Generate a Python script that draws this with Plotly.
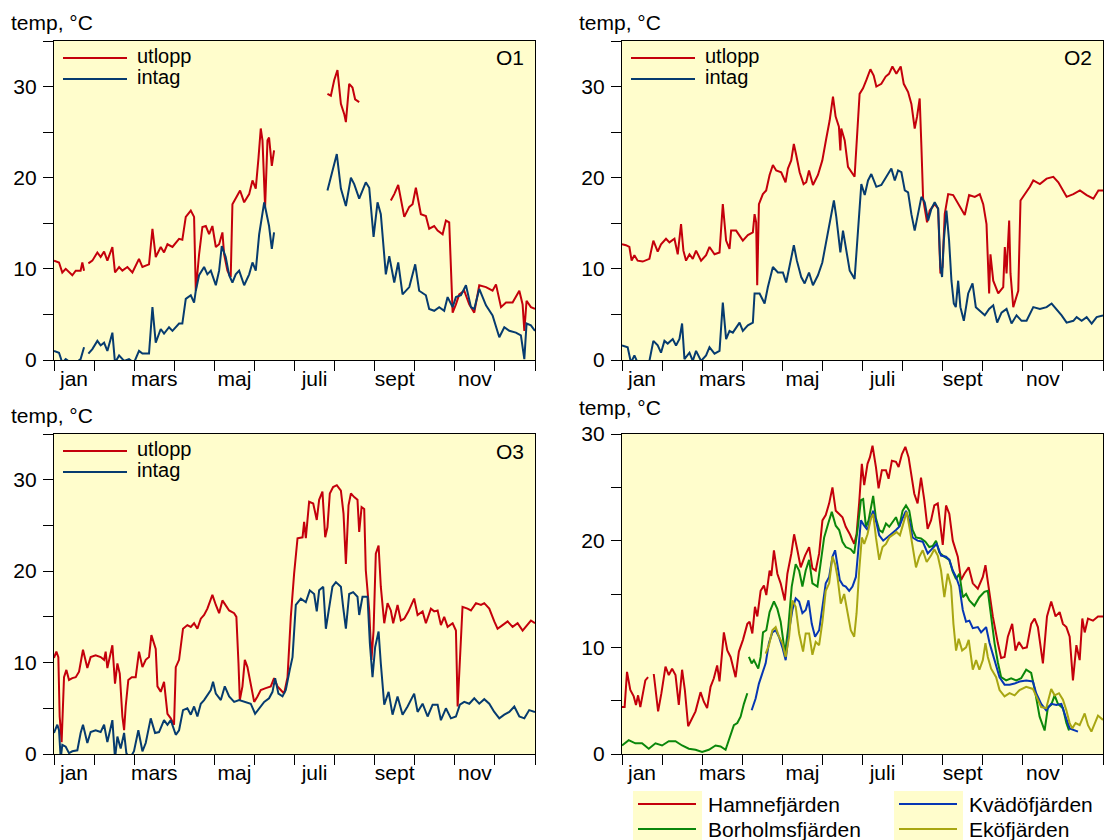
import plotly.graph_objects as go

W, H = 1104, 840

# ---------------- data (day of year, temperature °C); None = gap ----------------
P1_UTLOPP = [
    (0, 10.9), (3.8, 10.7), (6.3, 9.6), (8.9, 10.0), (13.9, 9.3), (16.5, 9.8), (20.2, 9.8), (21.5, 10.7), (22.8, 9.8), (24.5, None),
    (26.1, 10.6), (29.1, 10.9), (32.9, 11.8), (35.4, 11.3), (38.0, 11.9), (40.5, 10.9), (44.3, 12.4), (46.3, 9.6), (49.4, 10.2),
    (51.9, 9.8), (55.7, 10.2), (59.5, 9.6), (64.5, 11.1), (67.1, 10.2), (72.1, 10.5), (74.7, 14.4), (77.2, 11.3), (81.0, 12.4),
    (83.5, 11.8), (86.1, 12.7), (89.9, 12.4), (94.9, 13.3), (97.4, 13.2), (100.0, 15.7), (103.8, 16.4), (106.3, 15.7), (107.6, 7.6),
    (110.1, 11.6), (112.6, 14.6), (115.2, 14.7), (117.7, 13.8), (120.2, 14.7), (122.8, 12.4), (125.3, 12.7), (127.8, 14.0),
    (129.1, 11.6), (131.6, 9.8), (134.1, 9.1), (135.4, 17.1), (139.2, 18.0), (141.2, 18.6), (144.3, 17.3), (148.1, 18.2),
    (150.6, 19.7), (153.1, 18.8), (155.2, 22.2), (156.9, 25.4), (158.2, 24.1), (160.2, 16.8), (162.0, 24.1), (163.2, 24.4),
    (165.3, 21.3), (167.0, 23.0), (180, None),
    (207.5, 29.2), (210.1, 29.0), (212.6, 30.7), (215.1, 31.8), (217.7, 28.1), (220.2, 27.0), (221.5, 26.1), (224.0, 30.3),
    (226.5, 29.9), (228.5, 28.6), (231.6, 28.3), (240, None),
    (255.6, 17.5), (258.2, 18.2), (261.2, 19.2), (263.2, 17.7), (265.8, 15.7), (269.6, 16.8), (272.1, 17.1), (274.6, 18.9),
    (278.4, 16.0), (282.2, 15.8), (284.7, 14.4), (288.5, 14.7), (291.1, 14.2), (294.9, 13.8), (297.4, 15.3), (299.9, 15.1),
    (302.5, 5.2), (305.0, 6.1), (307.5, 7.2), (311.3, 7.6), (315.1, 6.1), (318.9, 5.2), (322.7, 8.2), (327.8, 8.0), (332.8, 7.6),
    (335.4, 8.3), (339.2, 5.8), (343.0, 6.3), (348.0, 6.3), (353.1, 7.6), (355.6, 6.1), (356.9, 3.2), (358.6, 6.5), (361.9, 5.8),
    (365, 5.6),
]
P1_INTAG = [
    (0, 1.0), (3.8, 0.8), (6.3, -0.3), (8.9, 0.1), (12.7, -0.3), (16.5, -0.3), (20.2, 0.1), (22.8, 1.4), (24.5, None),
    (26.1, 0.7), (29.1, 1.2), (32.9, 2.1), (35.4, 1.6), (38.0, 1.9), (40.5, 1.0), (44.3, 3.0), (46.3, -0.3), (49.4, 0.5),
    (53.2, -0.1), (56.9, 0.1), (60.7, -0.3), (64.5, 1.0), (67.1, 0.7), (72.1, 0.7), (74.7, 5.8), (77.2, 1.9), (81.0, 3.4),
    (83.5, 2.9), (87.3, 3.6), (89.9, 3.2), (94.9, 4.0), (97.4, 4.0), (100.0, 6.7), (103.8, 7.1), (106.3, 6.3), (107.6, 7.6),
    (110.1, 9.3), (113.9, 10.2), (116.4, 9.4), (119.0, 9.8), (122.8, 8.2), (125.3, 9.8), (127.3, 12.5), (130.3, 11.3),
    (132.9, 9.3), (135.4, 8.5), (137.9, 9.4), (140.5, 9.8), (144.3, 8.2), (148.1, 9.4), (150.6, 10.7), (153.1, 9.8),
    (155.7, 13.8), (159.5, 17.3), (162.0, 15.3), (163.2, 14.7), (165.3, 12.2), (167.0, 14.0), (180, None),
    (207.5, 18.6), (211.3, 20.6), (214.6, 22.6), (217.7, 18.8), (221.5, 16.9), (225.3, 20.0), (227.8, 19.3), (231.6, 17.7),
    (236.6, 19.5), (239.2, 18.9), (242.5, 13.5), (245.5, 17.3), (248.0, 16.0), (251.8, 9.4), (254.4, 11.4), (258.2, 8.5),
    (261.2, 10.7), (264.5, 7.2), (269.6, 8.0), (274.1, 10.5), (277.1, 7.6), (282.2, 7.1), (284.7, 5.6), (288.5, 5.4),
    (292.3, 5.8), (296.1, 5.4), (298.7, 6.9), (302.5, 5.8), (305.0, 6.9), (308.8, 7.1), (312.6, 8.2), (316.4, 5.8),
    (318.9, 5.6), (322.7, 7.8), (327.8, 6.0), (332.8, 4.9), (337.9, 2.5), (341.7, 3.6), (345.5, 3.2), (350.5, 3.0),
    (354.3, 2.7), (356.9, 0.1), (358.6, 4.0), (361.9, 3.8), (365, 3.2),
]
P2_UTLOPP = [
    (0, 12.7), (3.0, 12.6), (5.6, 12.4), (7.3, 10.9), (9.4, 11.5), (11.9, 10.9), (15.7, 10.8), (20.8, 11.1), (23.8, 13.1),
    (27.1, 11.9), (29.6, 12.7), (33.4, 13.3), (36.0, 12.9), (39.8, 13.3), (42.3, 11.6), (44.8, 14.9), (46.6, 12.0),
    (48.6, 10.9), (51.2, 11.6), (53.7, 11.1), (56.2, 12.0), (60.0, 10.9), (63.8, 11.5), (66.4, 12.4), (70.2, 11.6),
    (74.0, 11.8), (76.5, 17.1), (79.0, 13.1), (81.6, 12.2), (82.8, 14.2), (86.6, 14.2), (89.2, 13.7), (91.7, 13.1),
    (95.5, 13.7), (99.3, 14.0), (100.6, 16.0), (101.8, 15.1), (102.6, 8.2), (103.9, 17.1), (106.9, 18.2), (109.4, 18.6),
    (112.0, 20.3), (114.5, 21.4), (117.0, 20.8), (120.8, 20.6), (124.1, 19.5), (125.9, 21.0), (128.4, 21.9), (130.4, 23.7),
    (132.2, 22.5), (134.8, 20.6), (137.8, 19.3), (139.8, 19.5), (141.9, 20.8), (144.9, 19.2), (148.7, 20.3), (152.0, 21.9),
    (155.0, 24.3), (157.6, 26.3), (160.1, 28.9), (162.1, 26.7), (164.6, 25.6), (165.7, 23.0), (166.4, 25.4), (169.0, 24.1),
    (171.5, 21.2), (174.0, 20.6), (176.5, 20.1), (180.3, 29.2), (182.9, 29.8), (185.4, 30.7), (188.5, 31.9), (191.0, 31.2),
    (193.0, 30.0), (196.8, 30.3), (200.1, 31.1), (202.6, 31.4), (205.2, 32.2), (208.2, 31.4), (211.5, 32.2), (213.8, 30.3),
    (217.1, 29.4), (219.6, 28.1), (222.1, 25.4), (223.9, 26.7), (225.9, 28.7), (227.2, 23.4), (228.5, 17.7), (231.5, 15.1),
    (233.5, 16.4), (237.3, 17.1), (239.9, 16.6), (241.6, 9.5), (243.2, 10.2), (244.9, 16.0), (247.5, 18.2), (251.3, 18.1),
    (255.1, 17.1), (260.1, 15.9), (263.4, 18.1), (267.7, 17.9), (271.5, 18.2), (274.1, 17.1), (276.6, 14.9), (278.6, 7.3),
    (279.6, 11.6), (281.7, 8.7), (285.5, 7.3), (289.3, 8.0), (290.5, 12.4), (291.8, 9.5), (293.8, 15.3), (294.8, 9.5),
    (296.9, 5.8), (300.7, 7.6), (302.4, 17.5), (305.7, 18.2), (309.5, 19.0), (312.1, 19.7), (317.1, 19.3), (322.2, 19.9),
    (327.3, 20.1), (331.1, 19.5), (334.9, 18.6), (337.4, 17.9), (342.5, 18.2), (347.5, 18.6), (352.6, 18.1), (357.7, 17.7),
    (361.5, 18.6), (365, 18.6),
]
P2_INTAG = [
    (0, 1.6), (4.3, 1.4), (6.8, -0.3), (9.4, 0.5), (11.9, -0.3), (15.7, -0.1), (20.8, -0.1), (23.8, 2.1), (27.1, 1.6),
    (29.6, 0.8), (32.2, 2.1), (34.7, 1.8), (38.5, 2.3), (41.0, 1.6), (43.6, 2.3), (45.6, 4.0), (47.4, 0.1), (51.2, 0.8),
    (53.7, -0.1), (56.2, 1.0), (60.0, -0.1), (63.8, 0.5), (66.4, 1.4), (70.2, 0.7), (74.0, 1.0), (76.5, 6.3), (79.0, 2.3),
    (81.6, 3.2), (84.1, 3.0), (86.6, 3.6), (89.2, 4.1), (91.7, 3.2), (95.5, 3.8), (99.3, 4.1), (100.6, 7.3), (104.4, 7.3),
    (108.2, 6.2), (110.7, 8.0), (114.5, 10.2), (118.3, 9.6), (122.1, 9.6), (124.6, 8.5), (127.2, 10.2), (130.4, 12.6),
    (132.7, 10.9), (136.0, 9.1), (138.6, 8.4), (141.9, 9.6), (144.9, 8.2), (148.7, 9.3), (152.0, 10.7), (155.0, 13.1),
    (157.6, 15.3), (160.8, 17.5), (162.6, 15.7), (165.7, 11.8), (167.7, 14.2), (170.2, 12.2), (172.8, 9.8), (176.5, 8.9),
    (179.1, 14.6), (181.6, 19.3), (184.2, 18.1), (186.7, 19.7), (189.2, 20.4), (193.0, 19.0), (196.8, 19.2), (200.6, 20.1),
    (204.4, 21.0), (207.0, 19.7), (209.5, 20.8), (212.0, 20.6), (214.6, 18.6), (217.1, 18.4), (219.6, 16.0), (222.1, 14.2),
    (224.7, 16.0), (227.2, 17.9), (229.7, 17.3), (232.3, 15.3), (234.8, 16.6), (237.3, 17.3), (239.9, 16.6), (241.6, 10.2),
    (242.9, 9.1), (244.2, 13.1), (246.2, 16.4), (248.2, 13.1), (250.0, 8.7), (251.8, 6.2), (253.3, 5.8), (255.1, 8.7),
    (256.8, 5.8), (259.4, 4.3), (262.7, 7.3), (266.0, 8.4), (268.5, 5.8), (271.5, 5.4), (275.3, 4.9), (278.6, 5.6),
    (281.7, 6.0), (284.7, 4.1), (288.0, 5.2), (291.8, 5.6), (295.6, 4.0), (299.4, 4.9), (303.2, 4.3), (307.0, 4.3),
    (312.1, 5.8), (317.1, 5.6), (322.2, 5.8), (326.0, 6.2), (329.8, 5.6), (333.6, 4.9), (337.4, 4.1), (342.5, 4.3),
    (345.0, 4.7), (348.8, 4.3), (352.6, 4.7), (356.4, 4.0), (360.2, 4.7), (365, 4.9),
]
P3_UTLOPP = [
    (0, 10.5), (1.8, 11.2), (3.3, 10.6), (4.3, 4.1), (5.8, 1.3), (7.6, 8.4), (9.4, 9.2), (11.4, 8.1), (13.9, 8.3),
    (16.5, 8.4), (19.0, 9.0), (22.0, 11.4), (25.3, 9.4), (27.8, 10.6), (31.6, 10.8), (35.4, 10.6), (38.0, 10.3),
    (39.2, 11.2), (40.5, 9.4), (42.3, 10.6), (44.3, 11.9), (46.3, 7.7), (48.1, 9.9), (49.9, 8.8), (51.9, 4.1), (53.2, 2.6),
    (54.4, 5.2), (56.4, 8.1), (59.0, 8.4), (62.0, 8.4), (64.5, 11.2), (67.1, 9.5), (69.6, 10.3), (72.1, 10.6), (73.9, 13.0),
    (77.2, 11.5), (78.5, 7.4), (81.0, 6.8), (83.5, 7.9), (86.1, 4.4), (88.6, 3.9), (91.1, 3.2), (92.4, 9.5), (94.9, 10.3),
    (97.9, 13.7), (101.2, 14.1), (103.8, 13.9), (106.3, 14.3), (108.8, 13.7), (111.4, 14.8), (113.9, 15.2), (116.4, 15.9),
    (119.0, 16.8), (120.2, 17.4), (122.8, 16.3), (125.3, 15.4), (127.8, 16.8), (130.3, 16.3), (132.9, 15.7), (136.7, 15.4),
    (138.4, 15.0), (140.0, 9.9), (141.0, 5.9), (143.0, 7.4), (144.8, 10.3), (146.8, 9.5), (149.3, 7.7), (151.9, 5.7),
    (154.4, 6.3), (156.9, 7.0), (160.7, 7.2), (164.5, 7.4), (167.0, 8.3), (169.6, 7.4), (172.1, 7.0), (174.6, 6.6),
    (177.2, 8.4), (179.7, 15.0), (182.2, 19.7), (184.8, 23.6), (188.6, 23.7), (189.8, 25.4), (191.1, 23.6), (193.6, 27.6),
    (196.7, 27.4), (199.4, 25.6), (201.2, 27.8), (203.7, 28.7), (205.8, 23.7), (207.5, 24.8), (209.3, 28.5), (211.8, 29.2),
    (214.6, 29.4), (217.7, 28.8), (219.7, 26.3), (221.5, 20.8), (223.5, 27.2), (225.3, 28.5), (227.8, 28.1), (230.3, 27.8),
    (231.6, 24.3), (233.4, 27.0), (235.4, 26.8), (236.6, 20.1), (239.2, 15.7), (240.9, 10.3), (242.5, 13.5), (244.2, 21.9),
    (246.3, 22.8), (248.0, 18.3), (250.6, 14.3), (253.1, 16.5), (255.6, 15.7), (257.4, 14.3), (260.7, 16.3), (263.2, 14.6),
    (265.8, 14.8), (269.0, 15.6), (273.3, 17.0), (275.9, 15.2), (279.7, 15.6), (282.2, 14.3), (286.0, 15.9), (288.5, 15.6),
    (291.1, 15.7), (293.6, 14.1), (296.1, 15.0), (298.7, 13.9), (302.5, 14.3), (305.0, 13.5), (306.3, 5.2), (308.0, 10.3),
    (310.0, 16.1), (313.8, 15.9), (316.4, 15.7), (320.2, 16.5), (324.0, 16.3), (326.5, 16.5), (330.3, 15.9), (334.1, 14.5),
    (336.6, 13.7), (340.4, 14.1), (344.2, 14.5), (348.0, 13.9), (351.8, 14.3), (355.6, 13.5), (359.4, 14.1), (361.9, 14.6),
    (365, 14.3),
]
P3_INTAG = [
    (0, 2.3), (2.5, 3.2), (3.8, 2.6), (5.1, -0.5), (6.3, 1.0), (8.9, 0.8), (11.4, 0.1), (13.9, 0.3), (17.7, 0.4), (20.2, 2.3),
    (22.0, 3.2), (25.3, 1.2), (27.8, 2.4), (31.6, 2.6), (35.4, 2.4), (38.0, 3.2), (40.5, 1.3), (42.3, 2.6), (44.3, 3.7),
    (46.3, -0.5), (48.1, 1.9), (50.6, 0.6), (53.2, 2.3), (54.9, 0.1), (57.5, -0.5), (60.7, 0.3), (64.0, 2.6), (67.1, 0.3),
    (69.6, 1.2), (73.4, 3.9), (76.7, 2.3), (79.7, 2.4), (83.5, 3.7), (86.1, 3.2), (88.6, 3.7), (92.4, 2.1), (94.9, 2.6),
    (97.9, 4.8), (101.2, 5.0), (103.8, 4.3), (106.3, 5.2), (108.8, 4.1), (111.4, 5.5), (113.9, 5.9), (116.4, 6.4),
    (119.0, 7.0), (120.7, 7.9), (122.8, 6.6), (126.6, 5.9), (129.6, 7.4), (132.9, 6.3), (136.7, 5.7), (140.5, 5.9),
    (145.5, 5.7), (149.3, 5.5), (152.6, 4.4), (155.7, 5.0), (159.5, 5.7), (163.2, 6.1), (165.8, 6.8), (167.8, 8.3),
    (170.3, 6.6), (173.4, 6.3), (175.9, 7.0), (178.9, 9.2), (181.0, 10.6), (183.5, 16.3), (187.3, 17.0), (191.1, 16.6),
    (194.1, 17.9), (197.4, 17.5), (199.4, 15.6), (201.2, 17.9), (204.3, 18.3), (206.3, 13.7), (208.8, 16.1), (211.3, 18.3),
    (213.9, 18.8), (217.7, 18.3), (219.4, 16.1), (221.5, 13.7), (224.0, 17.5), (227.0, 17.7), (230.3, 17.2), (231.6, 15.2),
    (234.1, 17.2), (237.9, 17.2), (239.7, 12.1), (241.7, 8.4), (243.7, 11.7), (246.3, 13.4), (248.0, 9.9), (250.6, 5.4),
    (253.9, 6.8), (256.9, 4.3), (260.7, 6.3), (264.5, 4.3), (268.3, 5.2), (273.3, 6.6), (275.9, 4.6), (279.7, 5.5),
    (283.5, 4.1), (287.3, 5.4), (291.1, 5.4), (293.6, 3.7), (297.4, 5.0), (301.2, 3.9), (305.0, 4.1), (308.0, 5.4),
    (311.3, 5.7), (315.1, 5.5), (318.9, 6.1), (322.7, 5.5), (326.5, 6.0), (330.3, 5.5), (334.1, 4.6), (337.9, 3.9),
    (341.7, 4.3), (345.5, 4.6), (349.3, 5.2), (353.1, 4.1), (356.9, 3.9), (360.6, 4.8), (365, 4.6),
]
HAMNEFJARDEN = [
    (0, 4.4), (2.0, 4.4), (3.8, 7.7), (6.3, 6.0), (8.9, 5.4), (10.6, 4.6), (12.2, 5.5), (13.9, 4.4), (16.5, 6.1), (17.7, 6.9),
    (19.8, 7.2), (22, None),
    (24.1, 7.5), (25.9, 5.4), (27.4, 4.0), (29.9, 5.7), (33.0, 8.2), (35.5, 7.4), (38.0, 8.0), (40.6, 7.4), (43.1, 4.6),
    (45.6, 7.9), (47.7, 6.0), (50.2, 2.6), (52.7, 3.2), (55.8, 4.0), (59.6, 5.8), (62.1, 4.9), (64.6, 4.3), (67.2, 6.3),
    (69.7, 7.1), (72.2, 8.3), (74.0, 6.8), (77.3, 11.4), (79.9, 9.7), (82.4, 9.1), (86.2, 7.2), (88.7, 9.6), (91.8, 10.7),
    (95.1, 12.2), (96.8, 12.4), (98.9, 11.3), (100.9, 13.8), (102.7, 12.9), (105.2, 15.3), (107.7, 15.8), (109.5, 14.9),
    (112.0, 17.2), (113.3, 16.7), (115.3, 19.1), (117.9, 16.9), (120.4, 16.0), (123.5, 14.4), (125.5, 16.9), (128.5, 18.8),
    (130.6, 20.6), (133.1, 19.1), (135.6, 17.5), (138.9, 18.6), (142.0, 19.4), (144.5, 17.4), (147.0, 17.2), (149.6, 18.8),
    (152.1, 21.9), (154.6, 22.4), (157.2, 23.5), (159.7, 25.0), (162.2, 22.8), (164.8, 22.5), (167.3, 22.2), (169.8, 21.3),
    (172.9, 20.6), (176.2, 19.7), (178.0, 20.6), (180.0, 23.6), (182.0, 27.2), (183.8, 25.2), (186.3, 27.2), (188.1, 27.8),
    (190.1, 28.9), (192.7, 26.9), (194.7, 24.9), (197.2, 26.6), (200.3, 26.6), (202.3, 25.8), (204.8, 27.5), (207.9, 27.4),
    (209.9, 26.9), (212.4, 28.1), (215.0, 28.8), (217.5, 27.8), (219.3, 26.3), (221.8, 24.4), (224.3, 23.5), (226.9, 25.9),
    (229.4, 23.8), (231.9, 21.1), (234.5, 21.9), (237.0, 23.3), (239.6, 23.5), (243.4, 19.6), (245.9, 23.3), (248.4, 22.5),
    (251.0, 20.0), (254.8, 18.5), (257.3, 16.3), (259.8, 16.9), (263.1, 17.5), (266.2, 16.0), (270.0, 15.5), (273.8, 16.6),
    (275.8, 17.7), (278.4, 15.3), (281.4, 12.9), (285.2, 10.4), (287.7, 9.0), (290.3, 9.1), (292.8, 11.0), (296.1, 12.2),
    (298.6, 9.7), (301.2, 10.5), (304.2, 9.9), (307.2, 10.0), (310.5, 12.2), (313.1, 12.7), (315.6, 11.9), (319.4, 8.5),
    (322.5, 12.9), (325.7, 14.3), (329.0, 12.9), (332.1, 13.3), (334.6, 12.2), (337.2, 11.9), (339.7, 11.0), (342.2, 6.9),
    (344.8, 10.2), (347.3, 8.8), (349.3, 12.7), (351.1, 11.4), (353.6, 12.7), (357.4, 12.5), (361.2, 12.9), (365, 12.9),
]
BORHOLMSFJARDEN = [
    (0, 0.8), (5.1, 1.3), (10.1, 1.0), (15.2, 1.0), (20.3, 0.5), (25.4, 1.0), (30.4, 0.8), (35.5, 1.2), (40.6, 1.2),
    (45.6, 0.8), (50.7, 0.5), (55.8, 0.4), (60.8, 0.2), (65.9, 0.4), (71.0, 0.8), (74.8, 0.7), (78.6, 0.4), (82.4, 1.8),
    (84.9, 2.7), (87.5, 2.9), (90.0, 3.5), (92.5, 4.7), (95.1, 5.7), (95.7, None),
    (96.3, 9.1), (98.4, 8.5), (100.1, 8.8), (103.4, 8.0), (105.2, 9.1), (107.0, 11.4), (109.5, 11.6), (112.0, 13.3),
    (115.3, 14.3), (117.9, 13.6), (120.4, 12.4), (123.7, 9.4), (126.2, 11.9), (128.8, 15.7), (131.8, 17.8), (134.4, 17.2),
    (136.9, 15.7), (139.4, 17.2), (142.0, 18.2), (144.5, 16.0), (148.3, 15.7), (150.8, 17.8), (153.4, 20.3), (156.7, 21.7),
    (159.2, 22.7), (162.2, 21.4), (164.8, 21.0), (167.3, 19.9), (169.8, 19.4), (173.6, 19.2), (176.2, 18.8), (178.7, 21.0),
    (181.3, 23.8), (183.0, 23.9), (185.1, 21.3), (187.1, 21.9), (188.9, 23.3), (190.6, 24.2), (192.7, 22.1), (195.2, 21.0),
    (197.7, 20.8), (200.3, 21.6), (202.8, 21.3), (205.3, 21.7), (207.9, 22.2), (210.4, 21.3), (212.9, 22.8), (215.5, 23.3),
    (218.0, 22.8), (220.5, 21.0), (223.1, 20.3), (226.9, 20.2), (230.2, 19.9), (233.2, 19.4), (235.8, 19.5), (238.3, 20.0),
    (240.8, 18.9), (244.6, 18.5), (248.4, 18.2), (251.0, 17.1), (253.5, 16.4), (256.0, 16.9), (258.6, 14.7), (261.1, 15.0),
    (263.6, 14.4), (267.4, 13.9), (271.2, 14.7), (275.0, 15.2), (277.6, 15.3), (280.1, 12.9), (282.7, 10.4), (285.2, 8.6),
    (287.7, 7.2), (291.5, 6.9), (295.3, 7.1), (299.1, 6.9), (302.9, 7.1), (306.7, 7.9), (310.5, 7.6), (313.1, 6.1),
    (316.9, 3.5), (320.7, 2.2), (323.2, 4.4), (325.7, 4.6), (328.3, 5.5), (330.8, 4.7), (334.6, 4.3), (337.2, 2.9),
    (339.2, 2.2),
]
KVADOFJARDEN = [
    (98.4, 4.1), (101.4, 5.2), (103.9, 6.6), (106.5, 7.5), (109.0, 8.5), (111.5, 10.4), (114.1, 11.4), (116.6, 11.6),
    (119.1, 11.0), (121.7, 10.0), (124.2, 8.8), (126.8, 11.6), (129.3, 13.5), (131.8, 14.6), (134.4, 14.3), (136.9, 13.2),
    (139.4, 13.5), (141.5, 14.4), (144.0, 12.2), (146.5, 11.0), (149.6, 11.6), (152.1, 13.8), (154.6, 16.0), (157.2, 16.6),
    (159.7, 18.5), (161.7, 19.1), (163.5, 17.8), (165.3, 16.3), (167.8, 15.8), (169.8, 15.7), (172.4, 15.3), (174.9, 15.7),
    (177.5, 16.6), (179.5, 19.7), (181.3, 21.9), (183.8, 21.4), (186.3, 21.0), (188.9, 22.2), (190.6, 22.8), (193.2, 21.6),
    (195.2, 20.5), (198.2, 20.0), (200.8, 20.3), (204.1, 20.6), (207.9, 21.0), (210.4, 21.3), (212.9, 22.1), (215.5, 22.8),
    (218.0, 21.9), (220.5, 20.3), (224.3, 20.0), (228.2, 19.9), (232.0, 18.8), (235.8, 19.3), (238.8, 19.7), (242.1, 18.6),
    (245.9, 18.5), (248.4, 18.2), (251.0, 17.2), (253.5, 16.6), (256.0, 15.7), (258.6, 13.5), (261.1, 12.4), (263.6, 12.5),
    (266.2, 11.8), (270.0, 11.9), (272.5, 11.4), (276.3, 11.9), (278.9, 10.4), (282.7, 8.8), (286.5, 7.2), (290.3, 6.5),
    (294.1, 6.5), (297.9, 6.6), (301.7, 6.8), (306.7, 6.9), (311.8, 6.8), (314.3, 5.7), (318.1, 4.7), (321.9, 4.1),
    (325.7, 4.7), (329.6, 4.6), (333.4, 4.7), (336.6, 3.5), (339.7, 2.4), (346.0, 2.1),
]
EKOFJARDEN = [
    (109.0, 9.4), (111.5, 10.2), (114.1, 11.6), (116.6, 11.9), (119.1, 11.0), (121.7, 10.4), (124.2, 9.1), (126.8, 11.0),
    (129.3, 14.4), (131.8, 13.8), (134.4, 11.3), (137.4, 9.6), (139.4, 11.3), (142.0, 11.3), (144.5, 9.3), (147.0, 10.5),
    (149.6, 10.2), (152.1, 12.4), (154.6, 15.3), (157.2, 16.0), (159.7, 18.5), (161.7, 17.8), (163.5, 16.6), (166.0, 14.1),
    (168.6, 15.0), (171.1, 13.2), (173.6, 11.6), (176.2, 11.0), (178.0, 13.2), (180.0, 17.2), (182.0, 20.3), (183.8, 19.7),
    (186.3, 20.6), (188.9, 22.1), (190.6, 22.5), (192.7, 20.3), (195.2, 18.2), (197.7, 19.4), (200.3, 19.7), (202.8, 20.3),
    (205.3, 20.5), (208.4, 20.8), (210.9, 20.5), (213.4, 21.6), (216.0, 22.7), (218.5, 21.0), (220.5, 19.4), (223.1, 17.5),
    (225.6, 18.5), (228.2, 19.1), (231.2, 18.0), (234.5, 18.6), (237.0, 19.2), (239.6, 18.6), (242.1, 17.2), (244.6, 14.7),
    (247.2, 16.9), (249.7, 15.7), (251.5, 12.2), (253.5, 9.7), (255.5, 10.8), (258.1, 9.7), (261.1, 10.0), (263.1, 10.7),
    (266.2, 7.9), (268.7, 8.8), (271.2, 7.9), (273.8, 8.8), (275.8, 10.4), (277.6, 9.1), (280.1, 8.0), (283.9, 7.2),
    (286.5, 6.0), (290.3, 5.4), (294.1, 5.7), (297.9, 5.5), (301.7, 6.0), (306.7, 6.3), (311.8, 6.1), (314.3, 5.4),
    (318.1, 4.4), (321.9, 4.3), (325.7, 6.1), (328.3, 5.5), (331.6, 5.7), (334.6, 5.1), (337.2, 4.1), (339.7, 2.9),
    (341.7, 2.4), (344.2, 2.9), (347.3, 2.7), (351.1, 3.8), (353.6, 2.7), (356.2, 2.1), (358.7, 2.9), (361.2, 3.6), (365, 3.2),
]

MONTH_LABELS = ["jan", "", "mars", "", "maj", "", "juli", "", "sept", "", "nov", ""]
YEAR_DAYS = 365
Y_TICKS_O = [0, 5, 10, 15, 20, 25, 30, 35]
Y_LABELS_O = ["0", "", "10", "", "20", "", "30", ""]
Y_TICKS_4 = [0, 5, 10, 15, 20, 25, 30]
Y_LABELS_4 = ["0", "", "10", "", "20", "", "30"]
Y_TITLE = "temp, °C"
SERIES_NAMES_O = ["utlopp", "intag"]
STATION_NAMES = ["Hamnefjärden", "Borholmsfjärden", "Kvädöfjärden", "Eköfjärden"]

# ---------------- styling ----------------
FONT = "Liberation Sans, Arial, Helvetica, sans-serif"
FS = 21
FS_LEG = 20
BG = "#FFFDCC"
RED = "#C4000B"
NAVY = "#063B6F"
GREEN = "#0B870B"
BLUE = "#0636B4"
OLIVE = "#A8A612"
LW = 2

def px(x):
    return x / W

def py(y):
    return 1 - y / H

month_w = YEAR_DAYS / 12
month_bounds = [i * month_w for i in range(13)]
month_mids = [(i + 0.5) * month_w for i in range(12)]

fig = go.Figure()

panels = [
    # (axis index, left, right, top, bottom, ymax, yticks, ylabels, title offset above top)
    (1, 54, 535, 41, 360, 35, Y_TICKS_O, Y_LABELS_O, 19),
    (2, 622, 1103, 41, 360, 35, Y_TICKS_O, Y_LABELS_O, 19),
    (3, 54, 535, 434, 754, 35, Y_TICKS_O, Y_LABELS_O, 19),
    (4, 622, 1103, 434, 754, 30, Y_TICKS_4, Y_LABELS_4, 27),
]

series_by_panel = {
    1: [(P1_UTLOPP, RED), (P1_INTAG, NAVY)],
    2: [(P2_UTLOPP, RED), (P2_INTAG, NAVY)],
    3: [(P3_UTLOPP, RED), (P3_INTAG, NAVY)],
    4: [(HAMNEFJARDEN, RED), (BORHOLMSFJARDEN, GREEN), (KVADOFJARDEN, BLUE), (EKOFJARDEN, OLIVE)],
}

layout = dict(
    width=W, height=H, margin=dict(l=0, r=0, t=0, b=0, autoexpand=False),
    paper_bgcolor="white", plot_bgcolor=BG, showlegend=False,
    font=dict(family=FONT, size=FS, color="black"),
)
shapes = []
annotations = []

for idx, l, r, t, b, ymax, yt, yl, toff in panels:
    sfx = "" if idx == 1 else str(idx)
    layout["xaxis" + sfx] = dict(
        domain=[px(l), px(r)], range=[0, YEAR_DAYS], anchor="y" + sfx,
        tickmode="array", tickvals=month_mids, ticktext=MONTH_LABELS, ticks="",
        ticklabelstandoff=0, automargin=False,
        minor=dict(tickmode="array", tickvals=month_bounds, ticks="outside", ticklen=10,
                   tickwidth=1.3, tickcolor="black", showgrid=False),
        showline=True, linecolor="black", linewidth=1.3, mirror=True,
        showgrid=False, zeroline=False, tickfont=dict(size=FS, color="black", family=FONT),
    )
    layout["yaxis" + sfx] = dict(
        domain=[py(b), py(t)], range=[0, ymax], anchor="x" + sfx,
        tickmode="array", tickvals=yt, ticktext=yl, ticks="outside", ticklen=10,
        tickwidth=1.3, tickcolor="black", ticklabelstandoff=2, automargin=False,
        showline=True, linecolor="black", linewidth=1.3, mirror=True,
        showgrid=False, zeroline=False, tickfont=dict(size=FS, color="black", family=FONT),
    )
    for data, color in series_by_panel[idx]:
        xs = [d for d, v in data]
        ys = [v for d, v in data]
        fig.add_trace(go.Scatter(
            x=xs, y=ys, mode="lines", line=dict(color=color, width=LW),
            xaxis="x" + sfx, yaxis="y" + sfx, connectgaps=False, hoverinfo="skip",
        ))
    # y title
    annotations.append(dict(text=Y_TITLE, x=px(l - 45), y=py(t - toff), xref="paper", yref="paper",
                            xanchor="left", yanchor="middle", showarrow=False,
                            font=dict(size=FS, family=FONT, color="black")))

# in-panel legends for O1..O3
for idx, (l, t, label) in enumerate([(54, 41, "O1"), (622, 41, "O2"), (54, 434, "O3")]):
    for k, (name, color) in enumerate(zip(SERIES_NAMES_O, [RED, NAVY])):
        yy = t + 17 + k * 21
        shapes.append(dict(type="line", xref="paper", yref="paper",
                           x0=px(l + 9), x1=px(l + 73), y0=py(yy), y1=py(yy),
                           line=dict(color=color, width=2.2)))
        annotations.append(dict(text=name, x=px(l + 81), y=py(yy - 2), xref="paper", yref="paper",
                                xanchor="left", yanchor="middle", showarrow=False,
                                font=dict(size=FS_LEG, family=FONT, color="black")))
    annotations.append(dict(text=label, x=px(l + 472), y=py(t + 17), xref="paper", yref="paper",
                            xanchor="right", yanchor="middle", showarrow=False,
                            font=dict(size=FS, family=FONT, color="black")))

# legend below panel 4
leg_cols = [(633, [(STATION_NAMES[0], RED), (STATION_NAMES[1], GREEN)]),
            (894, [(STATION_NAMES[2], BLUE), (STATION_NAMES[3], OLIVE)])]
for x0, items in leg_cols:
    shapes.append(dict(type="rect", xref="paper", yref="paper", layer="below",
                       x0=px(x0), x1=px(x0 + 69), y0=py(791), y1=py(840),
                       fillcolor=BG, line=dict(width=0)))
    for k, (name, color) in enumerate(items):
        yy = 804 + k * 25
        shapes.append(dict(type="line", xref="paper", yref="paper",
                           x0=px(x0 + 5), x1=px(x0 + 63), y0=py(yy), y1=py(yy),
                           line=dict(color=color, width=2.2)))
        annotations.append(dict(text=name, x=px(x0 + 73), y=py(yy), xref="paper", yref="paper",
                                xanchor="left", yanchor="middle", showarrow=False,
                                font=dict(size=FS, family=FONT, color="black")))

layout["shapes"] = shapes
layout["annotations"] = annotations
fig.update_layout(**layout)
fig.write_html(
    "out.html",
    config={"displayModeBar": False},
    post_script="document.body.style.margin='0';document.body.style.padding='0';"
                "document.documentElement.style.overflow='hidden';",
)
